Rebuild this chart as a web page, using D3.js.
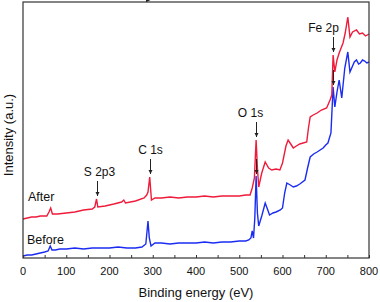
<!DOCTYPE html>
<html>
<head>
<meta charset="utf-8">
<script src="https://cdn.jsdelivr.net/npm/d3@7"></script>
<style>
    body { margin: 0; background: #fff; }
    svg text { font-family: Arial, "Liberation Sans", sans-serif; fill: #111; }
</style>
</head>
<body>
<svg id="chart" width="380" height="302"></svg>
<script>

// binding energy (eV) / intensity (a.u.)
let beforeEnergy = [0, 10, 20, 30, 40, 50, 58, 63, 67, 75, 85, 100, 120, 140, 160, 180, 200, 220, 240, 260, 275, 284, 289, 292, 296, 305, 320, 340, 360, 380, 400, 420, 440, 460, 480, 500, 515, 522, 527, 530, 533, 536, 539, 542, 545, 552, 560, 566, 570, 578, 585, 595, 600, 605, 610, 618, 625, 632, 640, 652, 658, 664, 672, 680, 687, 694, 700, 705, 712, 717, 721, 726, 731, 737, 744, 751, 756, 762, 766, 771, 776, 780, 785, 790, 795, 800];
let beforeValue  = [2, 3, 3, 4, 5, 6, 7, 12, 8, 8, 9, 9, 10, 9, 10, 10, 10, 11, 10, 10, 11, 14, 37, 20, 12, 15, 15, 14, 15, 15, 15, 16, 15, 16, 16, 17, 17, 18, 20, 27, 20, 40, 82, 45, 32, 42, 55, 48, 43, 45, 46, 48, 50, 65, 75, 73, 71, 72, 74, 78, 90, 101, 104, 106, 108, 110, 113, 115, 125, 171, 151, 166, 178, 160, 190, 206, 186, 192, 196, 198, 194, 195, 198, 197, 195, 196];

let afterEnergy  = [0, 10, 20, 30, 40, 55, 60, 64, 68, 80, 100, 120, 140, 160, 166, 170, 173, 190, 210, 228, 233, 237, 260, 280, 286, 289, 293, 297, 305, 320, 340, 360, 380, 400, 420, 440, 460, 480, 500, 515, 525, 530, 535, 539, 542, 545, 552, 560, 568, 575, 585, 594, 600, 608, 613, 619, 625, 632, 640, 656, 660, 664, 671, 680, 690, 702, 710, 714, 717, 721, 726, 731, 740, 745, 751, 756, 762, 771, 778, 785, 792, 800];
let afterValue   = [39, 40, 41, 41, 42, 42, 46, 50, 44, 44, 45, 46, 48, 49, 51, 59, 51, 52, 54, 56, 58, 55, 57, 60, 63, 66, 81, 58, 60, 60, 61, 60, 61, 61, 62, 61, 62, 62, 62, 63, 63, 70, 80, 118, 90, 71, 85, 96, 90, 88, 89, 88, 95, 112, 118, 114, 110, 112, 114, 116, 130, 141, 143, 145, 148, 150, 158, 163, 203, 186, 198, 205, 215, 225, 241, 221, 226, 228, 224, 225, 222, 224];

let xTicks = [0, 100, 200, 300, 400, 500, 600, 700, 800];
let seriesNames = ["After", "Before"];

// peak annotations: label, energy, marked on which series
let peakLabels   = ["S 2p3", "C 1s", "O 1s", "Fe 2p"];
let peakEnergies = [170, 293, 539, 717];
let peakOnBefore = [false, true, true, true];

// layout
let svg = d3.select("#chart");
let margin = {left: 23, right: 11, top: 2, bottom: 44};
let width = 380, height = 302;
let innerW = width - margin.left - margin.right;
let innerH = height - margin.top - margin.bottom;
let labelDx = [2, 0, -6, -10];

let x = d3.scaleLinear().domain([0, 800]).range([margin.left, margin.left + innerW]);
let y = d3.scaleLinear().domain([0, 256]).range([margin.top + innerH, margin.top]);

let red = "#ee1b3b", blue = "#1b2cf2";

let line = d3.line()
             .x(function (d) { return x(d[0]); })
             .y(function (d) { return y(d[1]); });

let beforeData = d3.zip(beforeEnergy, beforeValue);
let afterData  = d3.zip(afterEnergy, afterValue);

svg.append("path")
   .attr("d", line(beforeData))
   .attr("fill", "none")
   .attr("stroke", blue)
   .attr("stroke-width", 1.4);

svg.append("path")
   .attr("d", line(afterData))
   .attr("fill", "none")
   .attr("stroke", red)
   .attr("stroke-width", 1.4);

// frame
svg.append("rect")
   .attr("x", margin.left).attr("y", margin.top)
   .attr("width", innerW).attr("height", innerH)
   .attr("fill", "none")
   .attr("stroke", "#333")
   .attr("stroke-width", 1.2);

// x axis, ticks pointing inward
let axisG = svg.append("g")
               .attr("transform", "translate(0," + (margin.top + innerH) + ")");
axisG.call(d3.axisBottom(x).tickValues(d3.range(0, 801, 50)).tickSize(-3).tickFormat(""))
     .call(function (g) { g.select(".domain").remove(); })
     .selectAll("line").attr("stroke", "#333");

svg.append("g")
   .selectAll("text")
   .data(xTicks)
   .enter()
   .append("text")
   .attr("x", function (d) { return x(d); })
   .attr("y", margin.top + innerH + 17)
   .attr("text-anchor", "middle")
   .style("font-size", "11px")
   .text(function (d) { return d; });

// axis titles
svg.append("text")
   .attr("x", margin.left + innerW / 2)
   .attr("y", 297)
   .attr("text-anchor", "middle")
   .style("font-size", "13px")
   .text("Binding energy (eV)");

svg.append("text")
   .attr("transform", "translate(13,135) rotate(-90)")
   .attr("text-anchor", "middle")
   .style("font-size", "13px")
   .text("Intensity (a.u.)");

// series labels
svg.append("text")
   .attr("x", 28).attr("y", 201)
   .style("font-size", "12.5px")
   .text(seriesNames[0]);
svg.append("text")
   .attr("x", 27).attr("y", 244)
   .style("font-size", "12.5px")
   .text(seriesNames[1]);

// arrows
let defs = svg.append("defs");
defs.append("marker")
    .attr("id", "head")
    .attr("viewBox", "0 0 10 10")
    .attr("refX", 10).attr("refY", 5)
    .attr("markerWidth", 4.5).attr("markerHeight", 5)
    .attr("markerUnits", "userSpaceOnUse")
    .attr("orient", "auto")
    .append("path")
    .attr("d", "M0,0 L10,5 L0,10 Z")
    .attr("fill", "#222");

function peakValue(energies, values, e) {
    let i = energies.indexOf(e);
    return values[i];
}

function arrow(px, tipY) {
    svg.append("line")
       .attr("x1", px).attr("x2", px)
       .attr("y1", tipY - 15).attr("y2", tipY)
       .attr("stroke", "#222")
       .attr("stroke-width", 1)
       .attr("marker-end", "url(#head)");
}

peakLabels.forEach(function (label, i) {
    let e = peakEnergies[i];
    let px = Math.round(x(e)) + 0.5;
    let tip = y(peakValue(afterEnergy, afterValue, e)) - 3;
    arrow(px, tip);
    svg.append("text")
       .attr("x", px + labelDx[i])
       .attr("y", tip - 20)
       .attr("text-anchor", "middle")
       .style("font-size", "12px")
       .text(label);
    if (peakOnBefore[i]) {
        let tipB = y(peakValue(beforeEnergy, beforeValue, e)) - 2;
        arrow(px, tipB);
    }
});

</script>
</body>
</html>
